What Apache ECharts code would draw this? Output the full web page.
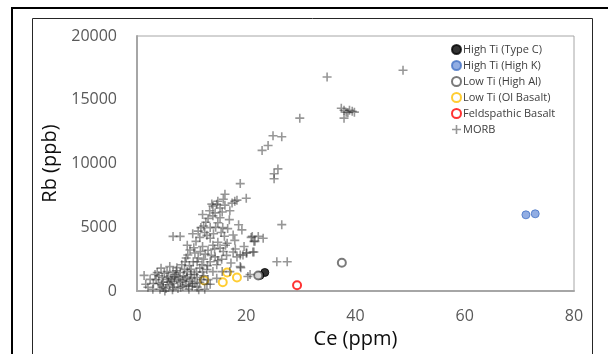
<!DOCTYPE html>
<html>
<head>
<meta charset="utf-8">
<script src="https://cdn.jsdelivr.net/npm/echarts@6/dist/echarts.min.js"></script>
<style>
  html, body { margin: 0; padding: 0; background: #fff; }
  #chart { width: 608px; height: 354px; }
</style>
</head>
<body>
<div id="chart"></div>
<script>
// axis ticks
var xTicks = [0, 20, 40, 60, 80];
var yTicks = [0, 5000, 10000, 15000, 20000];

// [Ce ppm, Rb ppb]
var highTiTypeC = [[22.5, 1230], [23.4, 1460]];
var highTiHighK = [[71.2, 5980], [72.9, 6060]];
var lowTiHighAl = [[22.2, 1230], [37.5, 2220]];
var lowTiOlBasalt = [[12.3, 840], [15.7, 690], [16.5, 1460], [18.3, 1070]];
var feldspathic = [[29.3, 460]];
var morb = [
  [34.8, 16780], [48.7, 17320],
  [37.4, 14330], [37.9, 14180], [38.3, 14030], [38.9, 14180], [39.4, 14100], [39.8, 14030], [37.9, 13560], [38.6, 14000],
  [29.8, 13560], [24.9, 12180], [26.5, 12100], [24.0, 11420], [22.9, 11030],
  [25.8, 9580], [25.1, 9200], [25.1, 8810], [18.9, 8430],
  [20.0, 7280], [17.9, 7050], [17.4, 6900], [16.1, 7590],
  [26.5, 5210], [21.1, 4290], [22.2, 4290], [21.6, 3900], [23.1, 4140],
  [19.4, 2835], [20.1, 2990], [21.2, 3065], [19.0, 1840], [25.6, 2300], [27.5, 2300], [20.3, 1150], [20.7, 1300],
  [14.8, 7050], [13.9, 6670], [15.2, 6510], [16.1, 6740], [18.3, 7130], [13.7, 6820], [14.3, 6130], [13.9, 5900],
  [15.2, 5750], [14.8, 5360], [15.7, 4980], [13.4, 4980], [11.7, 4980], [12.4, 4600], [12.8, 4370], [11.5, 4210],
  [13.4, 4140], [14.8, 3830], [13.9, 3600], [15.2, 3370], [16.5, 3750],
  [6.6, 4290], [7.9, 4290], [17.9, 3980], [20.9, 4210], [21.4, 3900],
  [17.6, 3065], [18.9, 2835], [20.0, 2990], [21.4, 3065], [18.3, 2680],
  [9.2, 3600], [9.7, 3220], [9.3, 2835], [10.6, 2990], [8.8, 2300], [10.3, 2300], [11.2, 2600], [11.9, 2070],
  [13.4, 2300], [14.3, 2680], [14.6, 2070], [12.8, 1690], [13.9, 1530], [15.6, 1530], [17.0, 1530], [18.9, 1920],
  [8.2, 2070], [7.3, 1840], [6.0, 1920], [5.5, 1530], [6.6, 1460], [7.9, 1460], [9.2, 1530],
  [3.7, 1460], [3.3, 1300], [1.3, 1230], [1.6, 540],
  [2.4, 920], [4.6, 1070], [4.8, 690], [5.5, 920], [6.4, 770], [7.3, 920], [7.9, 690], [8.8, 920], [9.7, 770],
  [11.0, 1070], [11.5, 690], [10.1, 380], [12.8, 540], [8.4, 380], [4.8, 310], [4.2, 150], [2.9, 150], [5.1, 0],
  [6.6, 310], [11.0, 310], [12.4, 150], [13.4, 540],
  [5.8, 1150], [6.9, 1100], [8.5, 1200], [10.5, 1300], [12.0, 1500], [9.9, 1700], [11.5, 1800], [12.5, 2900],
  [13.0, 3200], [12.0, 3500], [10.8, 3900], [14.0, 4500], [16.0, 4300], [16.9, 5600], [12.6, 5400], [13.3, 6300],
  [15.6, 6200], [3.9, 600], [6.0, 500], [7.5, 200], [9.5, 150], [10.6, 600], [14.6, 1000], [15.5, 2500],
  [16.4, 2800], [17.2, 2200], [13.0, 900], [9.0, 500], [7.0, 1300], [10.0, 1000],
  [3.5, 900], [4.0, 1200], [4.5, 500], [5.0, 1400], [5.3, 200], [5.7, 700], [6.2, 1000], [6.5, 100], [6.8, 600],
  [7.2, 1600], [7.6, 1100], [8.0, 300], [8.3, 800], [8.7, 1700], [9.1, 1100], [9.4, 400], [9.8, 1300], [10.2, 600],
  [10.9, 1500], [11.3, 100], [11.8, 900], [12.2, 1200], [3.0, 600], [2.0, 300], [4.4, 1800],
  [9.0, 2600], [9.6, 2000], [10.4, 3400], [11.0, 2300], [11.6, 3100], [12.2, 2500], [12.9, 2000], [13.6, 2800],
  [14.2, 3300], [14.8, 2400], [15.8, 3100], [16.2, 3600], [10.2, 4500], [11.2, 4700], [12.2, 5100], [13.0, 5700],
  [14.4, 5000], [15.4, 4600], [16.6, 4900], [17.6, 4400], [12.0, 6000], [14.6, 6800], [15.8, 7200], [17.0, 6300],
  [19.2, 4800], [18.6, 5200], [18.0, 3300], [19.6, 3500]
];

var plusPath = 'path://M3.7,0h1.6v3.7h3.7v1.6h-3.7v3.7h-1.6v-3.7h-3.7v-1.6h3.7z';
var font = '"Open Sans", "Liberation Sans", sans-serif';

var chart = echarts.init(document.getElementById('chart'), null, { renderer: 'canvas' });

function ring(color) {
  return { color: '#fff', borderColor: color, borderWidth: 2 };
}

var option = {
  animation: false,
  backgroundColor: '#fff',
  textStyle: { fontFamily: font },
  graphic: [
    { type: 'polyline', shape: { points: [[12, 360], [12, 8], [620, 8]] },
      style: { fill: null, stroke: '#000', lineWidth: 2 }, silent: true },
    { type: 'polyline', shape: { points: [[32.5, 360], [32.5, 18.5], [592.5, 18.5], [592.5, 360]] },
      style: { fill: null, stroke: '#262626', lineWidth: 1 }, silent: true }
  ],
  grid: {
    left: 137, right: 34, top: 36, bottom: 57,
    show: true, borderColor: '#a6a6a6', borderWidth: 1
  },
  legend: {
    orient: 'vertical',
    left: 451, top: 44, padding: 0,
    itemWidth: 9, itemHeight: 9, itemGap: 5,
    selectedMode: false,
    textStyle: { fontSize: 11, color: '#404040', fontFamily: font, padding: [0, 0, 0, -3] },
    data: ['High Ti (Type C)', 'High Ti (High K)', 'Low Ti (High Al)', 'Low Ti (Ol Basalt)', 'Feldspathic Basalt', 'MORB']
  },
  xAxis: {
    type: 'value', min: xTicks[0], max: xTicks[xTicks.length - 1], interval: 20,
    name: 'Ce (ppm)', nameLocation: 'middle', nameGap: 37,
    nameTextStyle: { fontSize: 20, color: '#0d0d0d' },
    axisLine: { show: true, lineStyle: { color: '#a6a6a6', width: 2 } },
    axisTick: { show: false },
    splitLine: { show: false },
    axisLabel: { fontSize: 16, color: '#595959', margin: 17 }
  },
  yAxis: {
    type: 'value', min: yTicks[0], max: yTicks[yTicks.length - 1], interval: 5000,
    name: 'Rb (ppb)', nameLocation: 'middle', nameGap: 76, nameRotate: 90,
    nameTextStyle: { fontSize: 20, color: '#0d0d0d' },
    axisLine: { show: true, lineStyle: { color: '#a6a6a6', width: 2 } },
    axisTick: { show: false },
    splitLine: { show: false },
    axisLabel: { fontSize: 16, color: '#595959', margin: 20, formatter: function (v) { return String(v); } }
  },
  series: [
    { name: 'High Ti (Type C)', type: 'scatter', data: highTiTypeC, symbol: 'circle', symbolSize: 8,
      itemStyle: { color: '#000', borderColor: '#000', borderWidth: 1 } },
    { name: 'High Ti (High K)', type: 'scatter', data: highTiHighK, symbol: 'circle', symbolSize: 8,
      itemStyle: { color: '#7699dc', borderColor: '#4472c4', borderWidth: 1 } },
    { name: 'Low Ti (High Al)', type: 'scatter', data: lowTiHighAl, symbol: 'circle', symbolSize: 8,
      itemStyle: ring('#595959') },
    { name: 'Low Ti (Ol Basalt)', type: 'scatter', data: lowTiOlBasalt, symbol: 'circle', symbolSize: 8,
      itemStyle: ring('#ffc000') },
    { name: 'Feldspathic Basalt', type: 'scatter', data: feldspathic, symbol: 'circle', symbolSize: 8,
      itemStyle: ring('#ff0000') },
    { name: 'MORB', type: 'scatter', data: morb, symbol: plusPath, symbolSize: 9,
      itemStyle: { color: 'rgba(45,45,45,0.62)' } }
  ]
};

chart.setOption(option);
</script>
</body>
</html>
